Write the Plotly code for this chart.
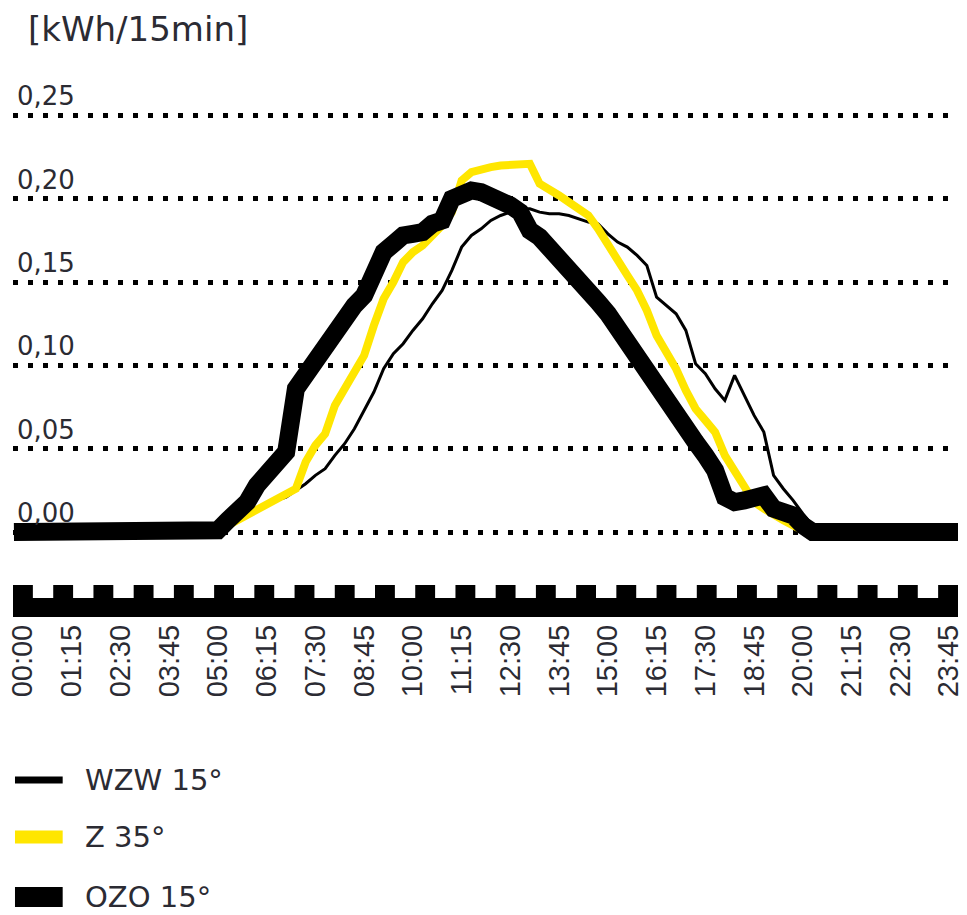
import plotly.graph_objects as go

# ---------------- data ----------------
times = [f"{h:02d}:{m:02d}" for h in range(24) for m in (0, 15, 30, 45)]

tick_labels = ["00:00", "01:15", "02:30", "03:45", "05:00", "06:15", "07:30",
               "08:45", "10:00", "11:15", "12:30", "13:45", "15:00", "16:15",
               "17:30", "18:45", "20:00", "21:15", "22:30", "23:45"]

y_ticks = [0.0, 0.05, 0.10, 0.15, 0.20, 0.25]
y_tick_text = ["0,00", "0,05", "0,10", "0,15", "0,20", "0,25"]

series_names = ["WZW 15°", "Z 35°", "OZO 15°"]

wzw_15 = [
    0, 0, 0, 0, 0, 0, 0, 0, 0, 0, 0, 0, 0, 0, 0, 0, 0, 0, 0, 0,
    0.000, 0.003, 0.006, 0.009, 0.013, 0.016, 0.019, 0.021, 0.025, 0.029,
    0.034, 0.038, 0.046, 0.053, 0.062, 0.073, 0.084, 0.098, 0.107, 0.113,
    0.121, 0.128, 0.137, 0.145, 0.157, 0.171, 0.178, 0.182, 0.187, 0.190,
    0.192, 0.194, 0.194, 0.192, 0.191, 0.191, 0.190, 0.188, 0.186, 0.185,
    0.179, 0.174, 0.171, 0.166, 0.160, 0.141, 0.136, 0.131, 0.121, 0.101,
    0.095, 0.086, 0.079, 0.094, 0.082, 0.070, 0.060, 0.034, 0.026, 0.019,
    0.011, 0.004, 0, 0, 0, 0, 0, 0, 0, 0, 0, 0, 0, 0, 0, 0,
]

z_35 = [
    0, 0, 0, 0, 0, 0, 0, 0, 0, 0, 0, 0, 0, 0, 0, 0, 0, 0, 0, 0,
    0.000, 0.004, 0.007, 0.010, 0.014, 0.017, 0.020, 0.022, 0.026, 0.042,
    0.052, 0.059, 0.076, 0.086, 0.096, 0.106, 0.124, 0.140, 0.150, 0.162,
    0.168, 0.172, 0.178, 0.184, 0.192, 0.211, 0.216, 0.218, 0.219, 0.220,
    0.220, 0.221, 0.221, 0.209, 0.206, 0.202, 0.198, 0.194, 0.190, 0.182,
    0.172, 0.162, 0.154, 0.145, 0.133, 0.118, 0.108, 0.098, 0.085, 0.074,
    0.067, 0.060, 0.046, 0.037, 0.029, 0.018, 0.014, 0.010, 0.007, 0.004,
    0.001, 0, 0, 0, 0, 0, 0, 0, 0, 0, 0, 0, 0, 0, 0, 0,
]

ozo_15 = [
    0, 0, 0, 0, 0, 0, 0, 0, 0, 0, 0, 0, 0, 0, 0, 0, 0, 0, 0, 0,
    0.001, 0.007, 0.012, 0.018, 0.028, 0.034, 0.041, 0.048, 0.086, 0.095,
    0.103, 0.112, 0.120, 0.128, 0.136, 0.142, 0.157, 0.168, 0.173, 0.178,
    0.179, 0.180, 0.185, 0.187, 0.200, 0.204, 0.205, 0.204, 0.202, 0.199,
    0.196, 0.192, 0.181, 0.177, 0.171, 0.165, 0.159, 0.151, 0.145, 0.138,
    0.131, 0.122, 0.114, 0.105, 0.095, 0.086, 0.079, 0.071, 0.063, 0.054,
    0.046, 0.037, 0.021, 0.018, 0.019, 0.021, 0.022, 0.014, 0.013, 0.010,
    0.004, 0, 0, 0, 0, 0, 0, 0, 0, 0, 0, 0, 0, 0, 0, 0,
]

# ---------------- styles ----------------
TEXT = "#2b2b33"
YELLOW = "#FFE600"
W, H = 967, 915
ML, MR, MT, MB = 13, 3, 95, 298
PW, PH = W - ML - MR, H - MT - MB


def px(x):
    return (x - ML) / PW


def py(y):
    return (H - MB - y) / PH


fig = go.Figure()
fig.add_trace(go.Scatter(x=times, y=wzw_15, mode="lines", name=series_names[0],
                         line=dict(color="#000000", width=3), showlegend=False))
fig.add_trace(go.Scatter(x=times, y=z_35, mode="lines", name=series_names[1],
                         line=dict(color=YELLOW, width=8), showlegend=False))
fig.add_trace(go.Scatter(x=times, y=ozo_15, mode="lines", name=series_names[2],
                         line=dict(color="#000000", width=18), showlegend=False))

shapes = []
# time band (bar + hourly teeth)
shapes.append(dict(type="rect", xref="paper", yref="paper", x0=0, x1=1,
                   y0=py(617), y1=py(598), fillcolor="#000", line=dict(width=0)))
tooth_w = 20 / PW
period = (1 - tooth_w) / 23
for k in range(24):
    shapes.append(dict(type="rect", xref="paper", yref="paper",
                       x0=k * period, x1=k * period + tooth_w,
                       y0=py(598.5), y1=py(585), fillcolor="#000", line=dict(width=0)))

annotations = []
# y tick labels sitting on top of the dotted grid lines
for v, t in zip(y_ticks, y_tick_text):
    annotations.append(dict(text=t, xref="paper", yref="y", x=px(15), y=v,
                            xanchor="left", yanchor="middle", yshift=19, showarrow=False,
                            font=dict(family="DejaVu Sans", size=26, color=TEXT)))

# legend
leg_y = [780, 837, 897]
leg_h = [7, 13, 20]
leg_c = ["#000000", YELLOW, "#000000"]
for name, yc, hh, col in zip(series_names, leg_y, leg_h, leg_c):
    shapes.append(dict(type="rect", xref="paper", yref="paper",
                       x0=px(15), x1=px(63), y0=py(yc + hh / 2), y1=py(yc - hh / 2),
                       fillcolor=col, line=dict(width=0)))
    annotations.append(dict(text=name, xref="paper", yref="paper", x=px(83), y=py(yc),
                            xanchor="left", yanchor="middle", showarrow=False,
                            font=dict(family="DejaVu Sans", size=29, color=TEXT)))

annotations.append(dict(text="[kWh/15min]", xref="paper", yref="paper", x=px(26), y=py(29),
                        xanchor="left", yanchor="middle", showarrow=False,
                        font=dict(family="DejaVu Sans", size=34, color=TEXT)))

fig.update_layout(
    width=W, height=H,
    margin=dict(l=ML, r=MR, t=MT, b=MB, pad=0),
    paper_bgcolor="white", plot_bgcolor="white",
    showlegend=False,
    shapes=shapes, annotations=annotations,
    xaxis=dict(type="category", range=[-1.019, 95.917],
               tickmode="array", tickvals=tick_labels, ticktext=tick_labels,
               tickangle=-90, ticks="", showgrid=False, zeroline=False, showline=False,
               ticklabelstandoff=1,
               tickfont=dict(family="Liberation Sans", size=29, color=TEXT)),
    yaxis=dict(range=[-0.0510, 0.2623], tickmode="array", tickvals=y_ticks,
               showticklabels=False, ticks="",
               showgrid=True, gridcolor="#000000", gridwidth=5, griddash="5px,10px",
               zeroline=False, showline=False),
)

post = """
document.body.style.margin = '0';
document.body.style.padding = '0';
var gd = document.getElementById('{plot_id}');
gd.querySelectorAll('.scatterlayer path').forEach(function(p){
  p.style.strokeLinecap = 'square';
});
"""
fig.write_html("out.html", post_script=post, config={"displayModeBar": False})
